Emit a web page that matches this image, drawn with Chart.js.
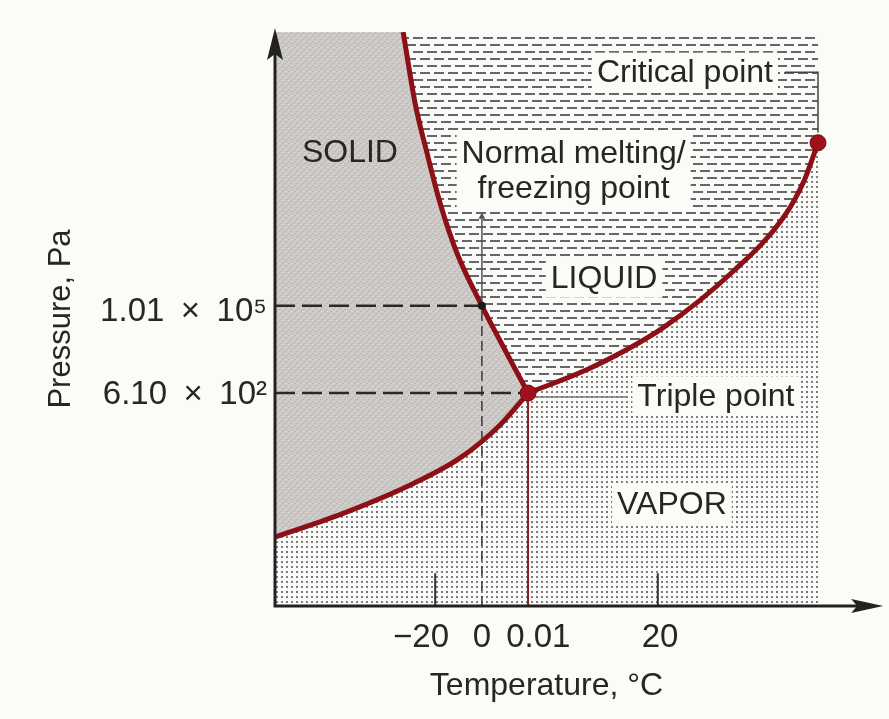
<!DOCTYPE html>
<html>
<head>
<meta charset="utf-8">
<script src="https://cdn.jsdelivr.net/npm/chart.js@4.4.1/dist/chart.umd.min.js"></script>
<style>
  html, body { margin: 0; padding: 0; background: #fbfbf7; }
  #wrap { width: 889px; height: 719px; }
</style>
</head>
<body>
<div id="wrap"><canvas id="phaseChart" width="889" height="719"></canvas></div>
<script>
// schematic diagram units: x 0..100 across the shaded box, y 0..100 from axis to top
const fusionX = [23.6, 25.8, 28.0, 30.4, 33.5, 38.1, 41.4, 46.6];
const fusionY = [100, 87.6, 78.9, 70.2, 61.5, 52.3, 46.3, 37.1];
const sublimX = [0, 12.2, 25.4, 34.1, 41.4, 46.6];
const sublimY = [12.0, 16.0, 21.3, 25.8, 31.5, 37.1];
const vaporX = [46.6, 58.2, 71.5, 84.5, 93.5, 97.4, 100];
const vaporY = [37.1, 41.5, 48.5, 58.4, 67.5, 74.0, 80.7];

const triplePoint = { x: 46.6, y: 37.1 };
const meltPoint = { x: 38.1, y: 52.3 };
const criticalPoint = { x: 100, y: 80.7 };

const xTickPos = [26.9, 38.1, 48.5, 70.9];
const xTickLabels = ['\u221220', '0', '0.01', '20'];
const xTickMarks = [29.5, 70.5];
const yTickPos = [51.3, 36.8];
const yTickLabels = ['1.01\u2002\u00d7\u200210\u2075', '6.10\u2002\u00d7\u200210\u00b2'];

const FONT = "'Liberation Sans', Arial, sans-serif";
const INK = '#262626';
const CURVE = '#8c1016';
const PAPER = '#fbfbf7';

const pts = (xs, ys) => xs.map((x, i) => ({ x: x, y: ys[i] }));

function makePattern(w, h, draw) {
  const c = document.createElement('canvas');
  c.width = w;
  c.height = h;
  const g = c.getContext('2d');
  draw(g);
  return g.createPattern(c, 'repeat');
}

// liquid: rows of short dashes
const liquidPattern = makePattern(28, 14, g => {
  g.fillStyle = '#fafaf8';
  g.fillRect(0, 0, 28, 14);
  g.fillStyle = '#666';
  g.fillRect(0, 2, 10, 2); g.fillRect(14, 2, 10, 2);
  g.fillRect(7, 9, 10, 2); g.fillRect(21, 9, 7, 2); g.fillRect(0, 9, 3, 2);
});
// vapor: dot screen
const vaporPattern = makePattern(5, 5, g => {
  g.fillStyle = '#fcfcfa';
  g.fillRect(0, 0, 5, 5);
  g.fillStyle = '#7e7e7e';
  g.fillRect(1, 1, 2, 2);
});
// solid: grey with a light grain
const solidPattern = makePattern(6, 6, g => {
  g.fillStyle = '#cdc9c6';
  g.fillRect(0, 0, 6, 6);
  g.fillStyle = '#bdb8b5';
  g.fillRect(0, 5, 2, 1); g.fillRect(2, 3, 2, 1); g.fillRect(4, 1, 2, 1);
  g.fillStyle = '#dcd8d5';
  g.fillRect(3, 5, 2, 1); g.fillRect(0, 2, 1, 1);
});

function area(data, pattern, order) {
  return {
    data: data, fill: 'start', backgroundColor: pattern,
    borderWidth: 0, pointRadius: 0, tension: 0, order: order
  };
}
function guide(data, color, width, dash, order) {
  return {
    data: data, fill: false, borderColor: color, borderWidth: width,
    borderDash: dash || [], pointRadius: 0, tension: 0, clip: false, order: order || 5
  };
}
function curve(data) {
  return {
    data: data, fill: false, borderColor: CURVE, borderWidth: 5,
    pointRadius: 0, cubicInterpolationMode: 'monotone', order: 2
  };
}

const datasets = [
  area([{ x: 0, y: 100 }, { x: 100, y: 100 }], liquidPattern, 10),
  area([{ x: 0, y: 100 }].concat(pts(fusionX, fusionY)), solidPattern, 9),
  area(pts(sublimX, sublimY).concat(pts(vaporX, vaporY).slice(1)), vaporPattern, 8),

  guide([{ x: 0, y: meltPoint.y }, meltPoint], '#2a2a2a', 2.5, [20, 7]),
  guide([{ x: 0, y: triplePoint.y }, triplePoint], '#2a2a2a', 2.5, [20, 7]),
  guide([{ x: meltPoint.x, y: 0 }, meltPoint], '#3a3a3a', 1.5, [10, 5]),
  guide([{ x: triplePoint.x, y: 0 }, triplePoint], '#8a2020', 2),
  guide([{ x: triplePoint.x, y: 36.4 }, { x: 64.8, y: 36.4 }], '#777', 1.5),
  guide([{ x: 93.9, y: 93.0 }, { x: 100, y: 93.0 }, { x: 100, y: 82.5 }], '#444', 1.5),
  guide([{ x: xTickMarks[0], y: 0 }, { x: xTickMarks[0], y: 5.7 }], '#333', 2),
  guide([{ x: xTickMarks[1], y: 0 }, { x: xTickMarks[1], y: 5.7 }], '#333', 2),
  Object.assign(guide([meltPoint, { x: meltPoint.x, y: 67.8 }], '#555', 1.5), {
    pointRadius: [0, 4], pointStyle: 'triangle', pointBackgroundColor: '#555', pointBorderWidth: 0
  }),

  curve(pts(fusionX, fusionY)),
  curve(pts(sublimX, sublimY)),
  curve(pts(vaporX, vaporY)),

  {
    data: [triplePoint, criticalPoint], showLine: false, clip: false, order: 1,
    pointRadius: 8, pointBackgroundColor: '#a0121a', pointBorderColor: '#7a0a10', pointBorderWidth: 1
  },
  {
    data: [meltPoint], showLine: false, clip: false, order: 1,
    pointRadius: 4, pointBackgroundColor: '#1a1a1a', pointBorderWidth: 0
  }
];

const phaseLabels = [
  { lines: ['SOLID'], x: 13.8, y: 79.1, box: false },
  { lines: ['Normal melting/', 'freezing point'], x: 55.0, y: 75.9, box: true },
  { lines: ['LIQUID'], x: 60.6, y: 57.1, box: true },
  { lines: ['Critical point'], x: 75.5, y: 93.0, box: true },
  { lines: ['Triple point'], x: 81.2, y: 36.6, box: true },
  { lines: ['VAPOR'], x: 73.1, y: 17.8, box: true }
];

const diagramExtras = {
  id: 'diagramExtras',
  afterDatasetsDraw(chart) {
    const ctx = chart.ctx;
    const xs = chart.scales.x, ys = chart.scales.y;
    const x0 = xs.getPixelForValue(0), y0 = ys.getPixelForValue(0);
    ctx.save();

    // axes with arrow heads
    ctx.strokeStyle = '#222';
    ctx.fillStyle = '#222';
    ctx.lineWidth = 3;
    const xEnd = xs.getPixelForValue(112);
    const yEnd = ys.getPixelForValue(100.7);
    ctx.beginPath();
    ctx.moveTo(x0, y0); ctx.lineTo(xEnd - 20, y0);
    ctx.moveTo(x0, y0 + 1.5); ctx.lineTo(x0, yEnd + 20);
    ctx.stroke();
    ctx.beginPath();
    ctx.moveTo(xEnd, y0); ctx.lineTo(xEnd - 32, y0 - 7); ctx.lineTo(xEnd - 26, y0); ctx.lineTo(xEnd - 32, y0 + 7);
    ctx.closePath(); ctx.fill();
    ctx.beginPath();
    ctx.moveTo(x0, yEnd); ctx.lineTo(x0 - 8, yEnd + 32); ctx.lineTo(x0, yEnd + 26); ctx.lineTo(x0 + 8, yEnd + 32);
    ctx.closePath(); ctx.fill();

    // region and point labels
    ctx.font = '32px ' + FONT;
    ctx.textAlign = 'center';
    ctx.textBaseline = 'middle';
    const lh = 35;
    phaseLabels.forEach(l => {
      const cx = xs.getPixelForValue(l.x);
      const cy = ys.getPixelForValue(l.y);
      const top = cy - lh * l.lines.length / 2;
      if (l.box) {
        const w = Math.max.apply(null, l.lines.map(t => ctx.measureText(t).width));
        ctx.fillStyle = PAPER;
        ctx.fillRect(cx - w / 2 - 5, top - 2, w + 10, lh * l.lines.length + 4);
      }
      ctx.fillStyle = INK;
      l.lines.forEach((t, i) => ctx.fillText(t, cx, top + lh * i + lh / 2 + 1));
    });
    ctx.restore();
  }
};

new Chart(document.getElementById('phaseChart'), {
  type: 'line',
  data: { datasets: datasets },
  plugins: [diagramExtras],
  options: {
    responsive: false,
    animation: false,
    layout: { padding: { top: 32, right: 71, left: 0, bottom: 0 } },
    plugins: { legend: { display: false }, tooltip: { enabled: false } },
    scales: {
      x: {
        type: 'linear', min: 0, max: 100,
        grid: { display: false, drawTicks: false },
        border: { display: false },
        afterBuildTicks: s => { s.ticks = xTickPos.map(v => ({ value: v })); },
        afterFit: s => { s.height = 113; },
        ticks: {
          autoSkip: false, maxRotation: 0, padding: 12, color: INK,
          font: { size: 33, family: FONT },
          callback: (v, i) => xTickLabels[i]
        },
        title: {
          display: true, text: 'Temperature, \u00b0C', color: INK,
          font: { size: 32, family: FONT }, padding: { top: 0, bottom: 14 }
        }
      },
      y: {
        type: 'linear', min: 0, max: 100,
        grid: { display: false, drawTicks: false },
        border: { display: false },
        afterBuildTicks: s => { s.ticks = yTickPos.map(v => ({ value: v })); },
        afterFit: s => { s.width = 275; },
        ticks: {
          autoSkip: false, padding: 8, color: INK,
          font: { size: 33, family: FONT },
          callback: (v, i) => yTickLabels[i]
        },
        title: {
          display: true, text: 'Pressure, Pa', color: INK,
          font: { size: 31, family: FONT }, padding: { top: 43, bottom: 0 }
        }
      }
    }
  }
});
</script>
</body>
</html>
